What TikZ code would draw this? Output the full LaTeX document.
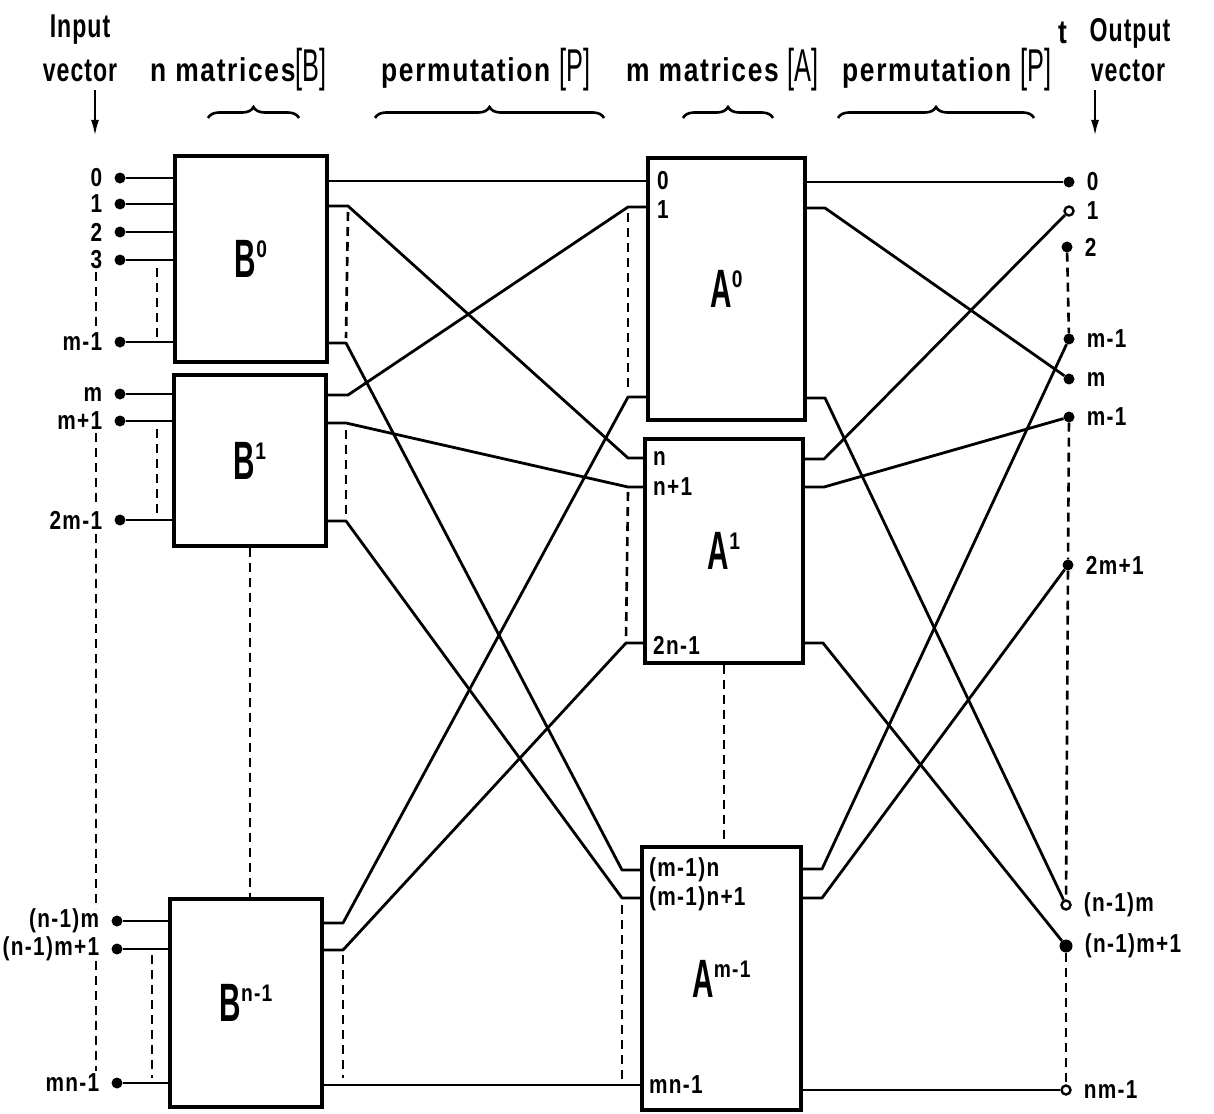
\documentclass[tikz,border=0pt]{standalone}
\usepackage{fontspec}
\usepackage{tikz}
\usetikzlibrary{arrows.meta,positioning,decorations.pathreplacing}
\newfontfamily\lettering[FakeStretch=0.8,LetterSpace=5]{Liberation Sans}
\newfontfamily\vlettering[FakeStretch=0.7,LetterSpace=3]{Liberation Sans}
\newfontfamily\portlettering[FakeStretch=0.8,LetterSpace=5]{Liberation Sans}
\newfontfamily\blocklettering[FakeStretch=0.55]{Liberation Sans}
\newcommand{\brk}[1]{{\blocklettering\mdseries\fontsize{46}{46}\selectfont[#1]}}
\newcommand{\blocklbl}[2]{{\blocklettering\bfseries\fontsize{54}{54}\selectfont #1\raisebox{20pt}{\portlettering\bfseries\fontsize{24}{24}\selectfont #2}}}

\begin{document}
\begin{tikzpicture}[x=1pt,y=-1pt,
  wire/.style={line width=2.8pt,line join=round},
  ellip/.style={line width=2.6pt,dash pattern=on 9pt off 6pt},
  matbox/.style={draw,line width=3.2pt,inner sep=0pt},
  dot/.style={circle,fill,inner sep=0pt,minimum size=11pt},
  odot/.style={circle,draw,fill=white,line width=2.4pt,inner sep=0pt,minimum size=9pt},
  plbl/.style={inner sep=0pt,font=\portlettering\bfseries\fontsize{26}{26}\selectfont},
  hdr/.style={inner sep=0pt,anchor=base,font=\lettering\bfseries\fontsize{33}{33}\selectfont},
  vhdr/.style={inner sep=0pt,anchor=base,font=\vlettering\bfseries\fontsize{33}{33}\selectfont},
  brc/.style={line width=2.6pt,decorate,decoration={brace,amplitude=11pt}},
  vecarrow/.style={line width=2.4pt,-{Latex[length=16pt,width=8pt]}}]
\path[use as bounding box,fill=white] (0,0) rectangle (1214,1113);

% headings
\node[vhdr] (hinput) at (80,38) {Input};
\node[vhdr] (hvecin) at (80,82) {vector};
\node[hdr,anchor=base west] (hbmat) at (150,82) {n matrices\brk{B}};
\node[hdr,anchor=base west] (hperm) at (381,82) {permutation \brk{P}};
\node[hdr,anchor=base west] (hamat) at (626,82) {m matrices \brk{A}};
\node[hdr,anchor=base west] (hpermt) at (842,82) {permutation \brk{P}\rlap{\hspace{7pt}\raisebox{38pt}{t}}};
\node[vhdr] (houtput) at (1130,42) {Output};
\node[vhdr] (hvecout) at (1128,82) {vector};
\draw[vecarrow] (95,90) -- (95,136);
\draw[vecarrow] (1095,90) -- (1095,136);
\draw[brc] (208,118) -- (299,118);
\draw[brc] (375,118) -- (604,118);
\draw[brc] (683,118) -- (773,118);
\draw[brc] (838,118) -- (1034,118);

% matrix blocks
\node[matbox,minimum width=152pt,minimum height=206pt] (B0) at (251,259) {\blocklbl{B}{0}};
\node[matbox,minimum width=152pt,minimum height=171pt] (B1) at (250,460.5) {\blocklbl{B}{1}};
\node[matbox,minimum width=152pt,minimum height=208pt] (Bn) at (246,1003) {\blocklbl{B}{n-1}};
\node[matbox,minimum width=157pt,minimum height=262pt] (A0) at (726.5,289) {\blocklbl{A}{0}};
\node[matbox,minimum width=158pt,minimum height=224pt] (A1) at (724,551) {\blocklbl{A}{1}};
\node[matbox,minimum width=159pt,minimum height=263pt] (Am) at (721.5,978.5) {\blocklbl{A}{m-1}};
\draw[ellip] (B1.south) -- (B1.south |- Bn.north);
\draw[ellip] (A1.south) -- (A1.south |- Am.north);

% input vector
\node[dot] (i0) at (120,178) {};
\node[dot] (i1) at (120,204) {};
\node[dot] (i2) at (120,232) {};
\node[dot] (i3) at (120,260) {};
\node[dot] (im1) at (120,342) {};
\node[dot] (j0) at (120,394) {};
\node[dot] (j1) at (120,421) {};
\node[dot] (jm1) at (120,520) {};
\node[dot] (k0) at (117,921) {};
\node[dot] (k1) at (117,949) {};
\node[dot] (km1) at (117,1083) {};
\node[plbl,left=12pt of i0] {0};
\node[plbl,left=12pt of i1] {1};
\node[plbl,left=12pt of i2] {2};
\node[plbl,left=12pt of i3] {3};
\node[plbl,left=12pt of im1] {m-1};
\node[plbl,left=12pt of j0] {m};
\node[plbl,left=12pt of j1] {m+1};
\node[plbl,left=12pt of jm1] {2m-1};
\node[plbl,left=12pt of k0] {(n-1)m};
\node[plbl,left=12pt of k1] {(n-1)m+1};
\node[plbl,left=12pt of km1] {mn-1};
\foreach \p/\b in {i0/B0,i1/B0,i2/B0,i3/B0,im1/B0,j0/B1,j1/B1,jm1/B1,k0/Bn,k1/Bn,km1/Bn}
  \draw[wire] (\p) -- (\b.west |- \p);
\draw[ellip] ([xshift=-24pt,yshift=-12pt]i3.center) -- ([xshift=-24pt,yshift=12pt]im1.center);
\draw[ellip] ([xshift=-24pt,yshift=-12pt]j1.center) -- ([xshift=-24pt,yshift=12pt]jm1.center);
\draw[ellip] ([xshift=-24pt,yshift=-14pt]jm1.center) -- ([xshift=-21pt,yshift=12pt]k0.center);
\draw[ellip] ([xshift=-21pt,yshift=-12pt]k1.center) -- ([xshift=-21pt,yshift=12pt]km1.center);
\draw[ellip] ([xshift=37pt,yshift=-8pt]i3.center) -- ([xshift=37pt,yshift=4pt]im1.center);
\draw[ellip] ([xshift=37pt,yshift=-8pt]j1.center) -- ([xshift=37pt,yshift=3pt]jm1.center);
\draw[ellip] ([xshift=35pt,yshift=-6pt]k1.center) -- ([xshift=35pt,yshift=5pt]km1.center);

% port labels of the A blocks
\node[plbl,anchor=west] (a0l0) at (657,181) {0};
\node[plbl,anchor=west] (a0l1) at (657,210) {1};
\node[plbl,anchor=west] (a1l0) at (653,458) {n};
\node[plbl,anchor=west] (a1l1) at (653,487) {n+1};
\node[plbl,anchor=west] (a1lm) at (653,645) {2n-1};
\node[plbl,anchor=west] (aml0) at (649,870) {(m-1)n};
\node[plbl,anchor=west] (aml1) at (649,899) {(m-1)n+1};
\node[plbl,anchor=west] (amlm) at (649,1085) {mn-1};

% permutation [P]
\coordinate (b0k1) at (348,206);
\coordinate (b0km) at (346,343);
\coordinate (b1k0) at (348,395);
\coordinate (b1k1) at (346,423);
\coordinate (b1km) at (346,521);
\coordinate (bnk0) at (343,923);
\coordinate (bnk1) at (343,950);
\coordinate (a0k1) at (628,207);
\coordinate (a0km) at (628,397);
\coordinate (a1k0) at (628,458);
\coordinate (a1k1) at (628,487);
\coordinate (a1km) at (626,643);
\coordinate (amk0) at (622,870);
\coordinate (amk1) at (622,898);
\draw[wire] (B0.east |- a0l0) -- (A0.west |- a0l0);
\draw[wire] (B0.east |- b0k1) -- (b0k1) -- (a1k0) -- (A1.west |- a1k0);
\draw[wire] (B0.east |- b0km) -- (b0km) -- (amk0) -- (Am.west |- amk0);
\draw[wire] (B1.east |- b1k0) -- (b1k0) -- (a0k1) -- (A0.west |- a0k1);
\draw[wire] (B1.east |- b1k1) -- (b1k1) -- (a1k1) -- (A1.west |- a1k1);
\draw[wire] (B1.east |- b1km) -- (b1km) -- (amk1) -- (Am.west |- amk1);
\draw[wire] (Bn.east |- bnk0) -- (bnk0) -- (a0km) -- (A0.west |- a0km);
\draw[wire] (Bn.east |- bnk1) -- (bnk1) -- (a1km) -- (A1.west |- a1km);
\draw[wire] (Bn.east |- amlm) -- (Am.west |- amlm);
\draw[ellip] ([yshift=-6pt]b0k1) -- ([yshift=5pt]b0km);
\draw[ellip] ([yshift=-7pt]b1k1) -- ([yshift=3pt]b1km);
\draw[ellip] ([yshift=-5pt]bnk1) -- ++(0,123);
\draw[ellip] ([yshift=-6pt]a0k1) -- ([yshift=7pt]a0km);
\draw[ellip] ([yshift=-5pt]a1k1) -- ([yshift=5pt]a1km);
\draw[ellip] ([yshift=-7pt]amk1) -- ++(0,180);

% output vector
\node[dot] (o0) at (1069,182) {};
\node[odot] (o1) at (1069,211) {};
\node[dot] (o2) at (1067,247) {};
\node[dot] (om1) at (1069,339) {};
\node[dot] (om) at (1069,379) {};
\node[dot] (om1b) at (1069,417) {};
\node[dot] (o2m1) at (1068,565) {};
\node[odot] (onm) at (1066,905) {};
\node[dot,minimum size=13pt] (onm1) at (1066,946) {};
\node[odot] (onmend) at (1066,1090) {};
\node[plbl,right=12pt of o0] {0};
\node[plbl,right=12pt of o1] {1};
\node[plbl,right=12pt of o2] {2};
\node[plbl,right=12pt of om1] {m-1};
\node[plbl,right=12pt of om] {m};
\node[plbl,right=12pt of om1b] {m-1};
\node[plbl,right=12pt of o2m1] {2m+1};
\node[plbl,right=12pt of onm] {(n-1)m};
\node[plbl,right=12pt of onm1] {(n-1)m+1};
\node[plbl,right=12pt of onmend] {nm-1};
\draw[ellip] (o2) -- (om1);
\draw[ellip] (om1b) -- (o2m1);
\draw[ellip] (o2m1) -- (onm);
\draw[ellip] (onm1) -- (onmend);

% permutation [P]^t
\coordinate (a0q1) at (825,208);
\coordinate (a0qm) at (825,398);
\coordinate (a1q0) at (824,459);
\coordinate (a1q1) at (824,487);
\coordinate (a1qm) at (823,643);
\coordinate (amq0) at (822,869);
\coordinate (amq1) at (822,898);
\draw[wire] (A0.east |- o0) -- (o0);
\draw[wire] (A0.east |- a0q1) -- (a0q1) -- (om);
\draw[wire] (A0.east |- a0qm) -- (a0qm) -- (onm);
\draw[wire] (A1.east |- a1q0) -- (a1q0) -- (o1);
\draw[wire] (A1.east |- a1q1) -- (a1q1) -- (om1b);
\draw[wire] (A1.east |- a1qm) -- (a1qm) -- (onm1);
\draw[wire] (Am.east |- amq0) -- (amq0) -- (om1);
\draw[wire] (Am.east |- amq1) -- (amq1) -- (o2m1);
\draw[wire] (Am.east |- onmend) -- (onmend);
\end{tikzpicture}
\end{document}
